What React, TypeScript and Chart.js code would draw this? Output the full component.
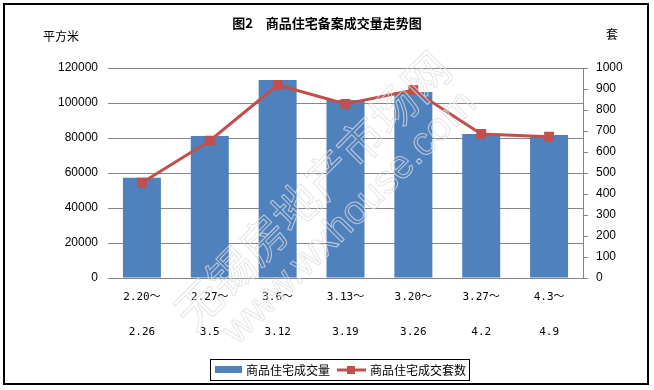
import React, { useEffect, useRef } from "react";
import { Chart, registerables } from "chart.js";

Chart.register(...registerables);

const periodStarts = ["2.20～", "2.27～", "3.6～", "3.13～", "3.20～", "3.27～", "4.3～"];
const periodEnds = ["2.26", "3.5", "3.12", "3.19", "3.26", "4.2", "4.9"];
const areaValues = [57300, 81100, 113100, 101700, 106300, 82300, 81700];
const unitValues = [454, 654, 919, 829, 895, 686, 673];

const areaLabel = "商品住宅成交量";
const unitLabel = "商品住宅成交套数";
const titleText = "图2　商品住宅备案成交量走势图";
const leftUnit = "平方米";
const rightUnit = "套";
const watermarkCn = "无锡房地产市场网";
const watermarkEn = "www.wxhouse.com";

const FONT = "'Liberation Sans', 'Noto Sans CJK SC', sans-serif";
const XFONT = "'DejaVu Sans Mono', 'Noto Sans CJK SC', monospace";
const CJK = "'Noto Sans CJK SC', 'Liberation Sans', sans-serif";
const BLUE = "#4F81BD";
const RED = "#C0504D";
const GRID = "#868686";

export default function App() {
  const ref = useRef<HTMLCanvasElement>(null);

  useEffect(() => {
    const canvas = ref.current!;
    const decor = {
      id: "decor",
      beforeDraw(chart: any) {
        const ctx = chart.ctx;
        ctx.save();
        ctx.fillStyle = "#fff";
        ctx.fillRect(0, 0, chart.width, chart.height);
        ctx.restore();
      },
      afterDatasetsDraw(chart: any) {
        const ctx = chart.ctx;
        ctx.save();
        ctx.strokeStyle = "rgba(222,222,222,0.8)";
        ctx.lineWidth = 1;
        ctx.textAlign = "center";
        ctx.textBaseline = "middle";
        ctx.save();
        ctx.translate(312, 190);
        ctx.rotate(-Math.PI / 4);
        ctx.font = `46px ${CJK}`;
        ctx.strokeText(watermarkCn, 0, 0);
        ctx.restore();
        ctx.save();
        ctx.translate(350, 218);
        ctx.rotate(-Math.PI / 4);
        ctx.font = `40px 'Liberation Sans', sans-serif`;
        ctx.strokeText(watermarkEn, 0, 0);
        ctx.restore();
        ctx.restore();
      },
      afterDraw(chart: any) {
        const ctx = chart.ctx;
        ctx.save();
        ctx.strokeStyle = "#000";
        ctx.lineWidth = 2;
        ctx.strokeRect(4, 4, 644, 380);
        ctx.fillStyle = "#000";
        ctx.textBaseline = "middle";
        ctx.textAlign = "center";
        ctx.font = `bold 13px ${CJK}`;
        ctx.fillText(titleText, 327, 23);
        ctx.font = `12px ${CJK}`;
        ctx.textAlign = "left";
        ctx.fillText(leftUnit, 43, 36);
        ctx.textAlign = "center";
        ctx.fillText(rightUnit, 612, 34);
        ctx.lineWidth = 1;
        ctx.strokeStyle = "#000";
        ctx.strokeRect(210.5, 359.5, 259, 21);
        ctx.fillStyle = BLUE;
        ctx.fillRect(215, 366, 27, 7);
        ctx.fillStyle = "#000";
        ctx.textAlign = "left";
        ctx.font = `12px ${CJK}`;
        ctx.fillText(areaLabel, 246, 370);
        ctx.strokeStyle = RED;
        ctx.lineWidth = 3;
        ctx.beginPath();
        ctx.moveTo(337, 370);
        ctx.lineTo(366, 370);
        ctx.stroke();
        ctx.fillStyle = RED;
        ctx.fillRect(347, 366, 8, 8);
        ctx.fillStyle = "#000";
        ctx.fillText(unitLabel, 370, 370);
        ctx.restore();
      },
    };

    const plain = (v: any) => String(v);

    const chart = new Chart(canvas, {
      type: "bar",
      data: {
        labels: periodStarts.map((s, i) => [s, periodEnds[i]]),
        datasets: [
          {
            type: "line",
            label: unitLabel,
            data: unitValues,
            yAxisID: "y1",
            borderColor: RED,
            backgroundColor: RED,
            borderWidth: 3,
            pointStyle: "rect",
            pointRadius: 7,
            pointBorderWidth: 0,
            tension: 0,
            order: 0,
          } as any,
          {
            type: "bar",
            label: areaLabel,
            data: areaValues,
            yAxisID: "y",
            backgroundColor: BLUE,
            barPercentage: 0.56,
            categoryPercentage: 1,
            order: 1,
          } as any,
        ],
      },
      options: {
        responsive: false,
        animation: false,
        layout: { padding: { top: 68, left: 0, right: 0, bottom: 0 } },
        plugins: {
          legend: { display: false },
          title: { display: false },
          tooltip: { enabled: false },
        },
        scales: {
          x: {
            grid: { display: false, drawTicks: false },
            border: { display: false },
            ticks: {
              color: "#000",
              padding: 2,
              maxRotation: 0,
              autoSkip: false,
              font: { family: XFONT, size: 11, lineHeight: "35px" } as any,
            },
            afterFit(s: any) {
              s.height = 112;
            },
          },
          y: {
            position: "left",
            min: 0,
            max: 120000,
            ticks: { stepSize: 20000, padding: 10, color: "#000", font: { family: FONT, size: 12 }, callback: plain },
            grid: { color: GRID, drawTicks: false, lineWidth: 1 },
            border: { display: false },
            afterFit(s: any) {
              s.width = 108;
            },
          },
          y1: {
            position: "right",
            min: 0,
            max: 1000,
            ticks: { stepSize: 100, padding: 8, color: "#000", font: { family: FONT, size: 12 }, callback: plain },
            grid: { drawOnChartArea: false, drawTicks: true, tickLength: 5, color: GRID },
            border: { display: true, color: GRID },
            afterFit(s: any) {
              s.width = 71;
            },
          },
        },
      } as any,
      plugins: [decor],
    });
    return () => chart.destroy();
  }, []);

  return (
    <div style={{ position: "fixed", left: 0, top: 0, width: 654, height: 390, background: "#fff" }}>
      <canvas ref={ref} width={654} height={390} style={{ width: 654, height: 390, display: "block" }} />
    </div>
  );
}
